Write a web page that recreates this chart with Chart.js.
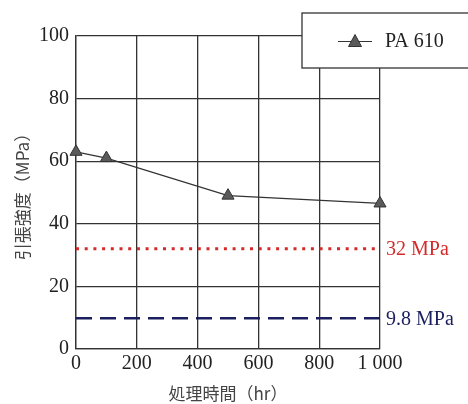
<!DOCTYPE html>
<html><head><meta charset="utf-8">
<script src="https://cdn.jsdelivr.net/npm/chart.js@4"></script>
<style>html,body{margin:0;padding:0;background:#fff}</style>
</head><body>
<canvas id="c" width="468" height="404"></canvas>
<script>
const hours = [0, 100, 500, 1000];
const strength = [63, 61, 49, 46.5];
const seriesName = 'PA 610';
const refLevels = [32, 9.8];
const refLabels = ['32 MPa', '9.8 MPa'];
const refColors = ['#d42a2a', '#1c1f5e'];
const xTickLabels = {0:'0',200:'200',400:'400',600:'600',800:'800',1000:'1 000'};
const xTitle = '処理時間（hr）';
const yTitle = '引張強度（MPa）';

const serif = "'Liberation Serif', 'DejaVu Serif', serif";
const cjk = "'Noto Sans CJK JP', sans-serif";

const extras = {
  id: 'extras',
  afterDraw(chart) {
    const ctx = chart.ctx, ca = chart.chartArea;
    const y = chart.scales.y;
    ctx.save();
    ctx.font = '20px ' + serif;
    ctx.textBaseline = 'middle';
    ctx.textAlign = 'left';
    refLevels.forEach((v, i) => {
      ctx.fillStyle = refColors[i];
      ctx.fillText(refLabels[i], ca.right + 6, y.getPixelForValue(v) + 1);
    });
    // legend box
    const bx = 302, by = 13, bw = 180, bh = 55;
    ctx.fillStyle = '#fff';
    ctx.fillRect(bx, by, bw, bh);
    ctx.strokeStyle = '#333';
    ctx.lineWidth = 1.3;
    ctx.strokeRect(bx, by, bw, bh);
    const cy = by + bh / 2 + 1;
    ctx.beginPath();
    ctx.moveTo(338, cy); ctx.lineTo(372, cy);
    ctx.strokeStyle = '#333'; ctx.lineWidth = 1.2; ctx.stroke();
    ctx.beginPath();
    ctx.moveTo(355, cy - 7); ctx.lineTo(361.5, cy + 5); ctx.lineTo(348.5, cy + 5); ctx.closePath();
    ctx.fillStyle = '#5a5a5a'; ctx.fill();
    ctx.strokeStyle = '#333'; ctx.lineWidth = 1; ctx.stroke();
    ctx.fillStyle = '#222';
    ctx.font = '20px ' + serif;
    ctx.fillText(chart.data.datasets[0].label, 385, cy);
    ctx.restore();
  }
};

new Chart(document.getElementById('c'), {
  type: 'scatter',
  data: {
    datasets: [
      {
        label: seriesName,
        data: hours.map((h, i) => ({x: h, y: strength[i]})),
        showLine: true,
        clip: false,
        borderColor: '#333',
        borderWidth: 1.2,
        pointStyle: 'triangle',
        pointRadius: 7,
        pointBackgroundColor: '#5a5a5a',
        pointBorderColor: '#333',
        pointBorderWidth: 1
      },
      {
        label: refLabels[0],
        data: [{x: 0, y: refLevels[0]}, {x: 1000, y: refLevels[0]}],
        showLine: true,
        borderColor: refColors[0],
        borderWidth: 3,
        borderDash: [3, 5.7],
        pointRadius: 0
      },
      {
        label: refLabels[1],
        data: [{x: 0, y: refLevels[1]}, {x: 1000, y: refLevels[1]}],
        showLine: true,
        borderColor: refColors[1],
        borderWidth: 2.5,
        borderDash: [16, 8],
        pointRadius: 0
      }
    ]
  },
  options: {
    responsive: false,
    animation: false,
    layout: {padding: {left: 0, right: 88, top: 36, bottom: 0}},
    plugins: {legend: {display: false}, tooltip: {enabled: false}},
    scales: {
      x: {
        type: 'linear', min: 0, max: 1000,
        ticks: {stepSize: 200, color: '#222', padding: 3, font: {family: serif, size: 20},
          callback: v => xTickLabels[v] ?? ''},
        grid: {color: '#333', lineWidth: 1.3, drawTicks: false},
        border: {color: '#333', width: 1.3},
        title: {display: true, text: xTitle, color: '#444', font: {family: cjk, size: 17}, padding: {top: 14, bottom: 0}},
        afterFit(s) { s.height = 55; }
      },
      y: {
        min: 0, max: 100,
        ticks: {stepSize: 20, color: '#222', padding: 7, font: {family: serif, size: 20}},
        grid: {color: '#333', lineWidth: 1.3, drawTicks: false},
        border: {color: '#333', width: 1.3},
        title: {display: true, text: yTitle, color: '#444', font: {family: cjk, size: 17}, padding: {top: 12, bottom: 0}},
        afterFit(s) { s.width = 76; }
      }
    }
  },
  plugins: [extras]
});
</script>
</body></html>
